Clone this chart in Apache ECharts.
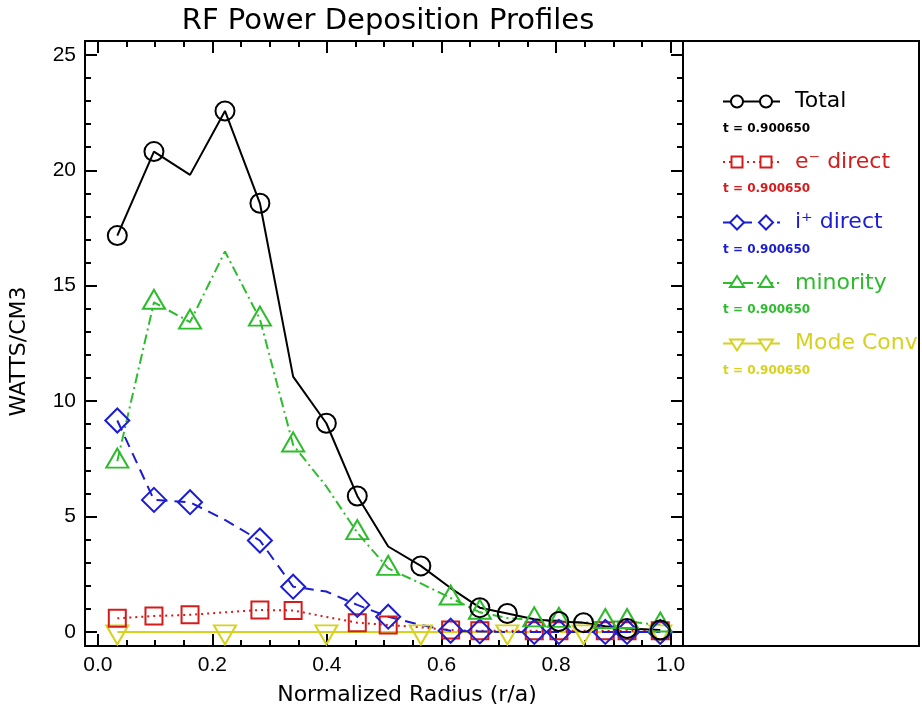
<!DOCTYPE html>
<html><head><meta charset="utf-8">
<script src="https://cdn.jsdelivr.net/npm/echarts@6/dist/echarts.min.js"></script>
<style>html,body{margin:0;padding:0;background:#fff}#c{width:922px;height:721px}</style>
</head><body><div id="c"></div>
<script>
// ---- data ----
const radius   = [0.034,0.098,0.161,0.222,0.283,0.341,0.399,0.453,0.507,0.564,0.616,0.667,0.715,0.762,0.805,0.848,0.886,0.924,0.982];
const total    = [17.17,20.81,19.80,22.57,18.57,11.06,9.04,5.89,3.70,2.86,1.90,1.05,0.80,0.55,0.45,0.40,0.25,0.15,0.08];
const eDirect  = [0.59,0.69,0.74,0.85,0.95,0.93,0.65,0.40,0.30,0.20,0.08,0.05,0.05,0.05,0.05,0.05,0.05,0.05,0.05];
const iDirect  = [9.16,5.72,5.62,4.85,3.96,1.96,1.75,1.17,0.66,0.30,0.05,0.02,0.00,0.00,0.00,0.00,0.00,0.00,0.00];
const minority = [7.40,14.28,13.42,16.48,13.55,8.10,6.30,4.30,2.75,2.10,1.47,0.85,0.60,0.52,0.50,0.40,0.45,0.45,0.30];
const modeConv = [0,0,0,0,0,0,0,0,0,0,0,0,0,0,0,0,0,0,0];
const seriesNames = ['Total','e\u207B direct','i\u207A direct','minority','Mode Conv'];
const timeLabel = 't = 0.900650';
const xTickLabels = [0.0,0.2,0.4,0.6,0.8,1.0];
const yTickLabels = [0,5,10,15,20,25];
// which samples carry a marker
const markTotal = [0,1,3,4,6,7,9,11,12,14,15,17,18];
const markComp  = [0,1,2,4,5,7,8,10,11,13,14,16,17,18];
const markMode  = [0,3,6,9,12,15,18];

// ---- layout / style ----
const FONT = '"DejaVu Sans", sans-serif';
const TFONT = '"Liberation Sans", Arial, sans-serif';
const X_MIN = -0.0224, X_MAX = 1.0217, Y_MIN = -0.61, Y_MAX = 25.6;
const xMinor = []; for (let k = 0; k <= 20; k++) xMinor.push(+(k*0.05).toFixed(2));
const yMinor = []; for (let k = 0; k <= 25; k++) yMinor.push(k);
const C = {total:'#000000', e:'#d41c1c', i:'#1c1cd0', m:'#2cbc2c', mode:'#d6d21e'};

function mk(arr){ return radius.map((r,i)=>[r,arr[i]]); }
function symFn(name, set){ const s=new Set(set); return (v,p)=> s.has(p.dataIndex)? name : 'none'; }

const tickStyle = {color:'#000', width:2};
function xAx(pos, major){
  return {type:'value', min:X_MIN, max:X_MAX, position:pos,
    axisLine:{show:major, onZero:false, lineStyle:{color:'#000', width:2}},
    axisTick:{show:true, inside:true, length: major?12:6, customValues: major? xTickLabels : xMinor, lineStyle:tickStyle},
    axisLabel:{show: major && pos==='bottom', customValues:xTickLabels, formatter:v=>v.toFixed(1), fontSize:21, color:'#000', margin:9, fontFamily:TFONT},
    splitLine:{show:false}};
}
function yAx(pos, major){
  return {type:'value', min:Y_MIN, max:Y_MAX, position:pos,
    axisLine:{show:major, onZero:false, lineStyle:{color:'#000', width:2}},
    axisTick:{show:true, inside:true, length: major?12:6, customValues: major? yTickLabels : yMinor, lineStyle:tickStyle},
    axisLabel:{show: major && pos==='left', customValues:yTickLabels, formatter:v=>String(v), fontSize:21, color:'#000', margin:9, fontFamily:TFONT},
    splitLine:{show:false}};
}
const xAxes = [xAx('bottom',true), xAx('bottom',false), xAx('top',true), xAx('top',false)];
xAxes[0].name = 'Normalized Radius (r/a)';
xAxes[0].nameLocation = 'middle';
xAxes[0].nameGap = 38;
xAxes[0].nameTextStyle = {fontSize:22, color:'#000', fontFamily:FONT, padding:[0,0,0,46]};
const yAxes = [yAx('left',true), yAx('left',false), yAx('right',true), yAx('right',false)];
yAxes[0].name = 'WATTS/CM3';
yAxes[0].nameLocation = 'middle';
yAxes[0].nameRotate = 90;
yAxes[0].nameGap = 55;
yAxes[0].nameTextStyle = {fontSize:22, color:'#000', fontFamily:FONT, padding:[0,16,0,0]};

function line(name, data, color, type, width, symbol, size, marks, offset){
  return {name, type:'line', data:mk(data), xAxisIndex:0, yAxisIndex:0,
    showSymbol:true, showAllSymbol:true, symbol:symFn(symbol, marks), symbolSize:size,
    symbolOffset: offset || [0,0],
    itemStyle:{color:'rgba(0,0,0,0)', borderColor:color, borderWidth:2},
    lineStyle:{color, width, type}, clip:false, z:2, emphasis:{disabled:true}};
}
const series = [
  line(seriesNames[4], modeConv, C.mode, 'solid', 2, 'triangle', [22,19], markMode, [0,3]),
  line(seriesNames[1], eDirect, C.e, [2,4], 2, 'rect', 17, markComp),
  line(seriesNames[2], iDirect, C.i, [11,7], 2, 'diamond', 24, markComp),
  line(seriesNames[3], minority, C.m, [10,4,2,4], 2, 'triangle', [22,19], markComp, [0,-3]),
  line(seriesNames[0], total, C.total, 'solid', 2, 'circle', 19, markTotal),
];
series[0].symbolRotate = 180;

// ---- legend drawn at the right panel ----
const legendRows = [
  {name:seriesNames[0], color:C.total, dash:null, sym:'circle'},
  {name:seriesNames[1], color:C.e, dash:[2,4], sym:'rect'},
  {name:seriesNames[2], color:C.i, dash:[11,7], sym:'diamond'},
  {name:seriesNames[3], color:C.m, dash:[10,4,2,4], sym:'tri'},
  {name:seriesNames[4], color:C.mode, dash:null, sym:'dtri'},
];
const graphics = [{type:'rect', shape:{x:85, y:41, width:834, height:605}, style:{fill:'none', stroke:'#000', lineWidth:2}, silent:true}];
legendRows.forEach((r,k)=>{
  const y = 101.5 + k*60.5;
  graphics.push({type:'line', shape:{x1:723,y1:y,x2:780,y2:y}, style:{stroke:r.color, lineWidth:2, lineDash:r.dash}, silent:true});
  [737,766].forEach(cx=>{
    let g;
    const st = {fill:'#fff', stroke:r.color, lineWidth:2};
    if (r.sym==='circle') g={type:'circle', shape:{cx, cy:y, r:6}, style:st};
    else if (r.sym==='rect') g={type:'rect', shape:{x:cx-5.5, y:y-5.5, width:11, height:11}, style:st};
    else if (r.sym==='diamond') g={type:'polygon', shape:{points:[[cx,y-7],[cx+7,y],[cx,y+7],[cx-7,y]]}, style:st};
    else if (r.sym==='tri') g={type:'polygon', shape:{points:[[cx,y-7],[cx+7,y+4],[cx-7,y+4]]}, style:st};
    else g={type:'polygon', shape:{points:[[cx-7,y-4],[cx+7,y-4],[cx,y+7]]}, style:st};
    g.silent = true; graphics.push(g);
  });
  graphics.push({type:'text', x:795, y:y, style:{text:r.name, fill:r.color, font:'22px '+FONT, textVerticalAlign:'middle'}, silent:true});
  graphics.push({type:'text', x:723, y:y+27, style:{text:timeLabel, fill:r.color, font:'bold 12px '+FONT, textVerticalAlign:'middle'}, silent:true});
});

const chart = echarts.init(document.getElementById('c'), null, {renderer:'canvas'});
chart.setOption({
  animation:false,
  backgroundColor:'#fff',
  title:{text:'RF Power Deposition Profiles', left:383, top:2, textAlign:'center',
    textStyle:{fontSize:29, fontWeight:'normal', color:'#000', fontFamily:FONT}},
  grid:{left:85, top:41, width:598, height:605, containLabel:false},
  xAxis:xAxes, yAxis:yAxes, series, graphic:graphics
});
</script></body></html>
